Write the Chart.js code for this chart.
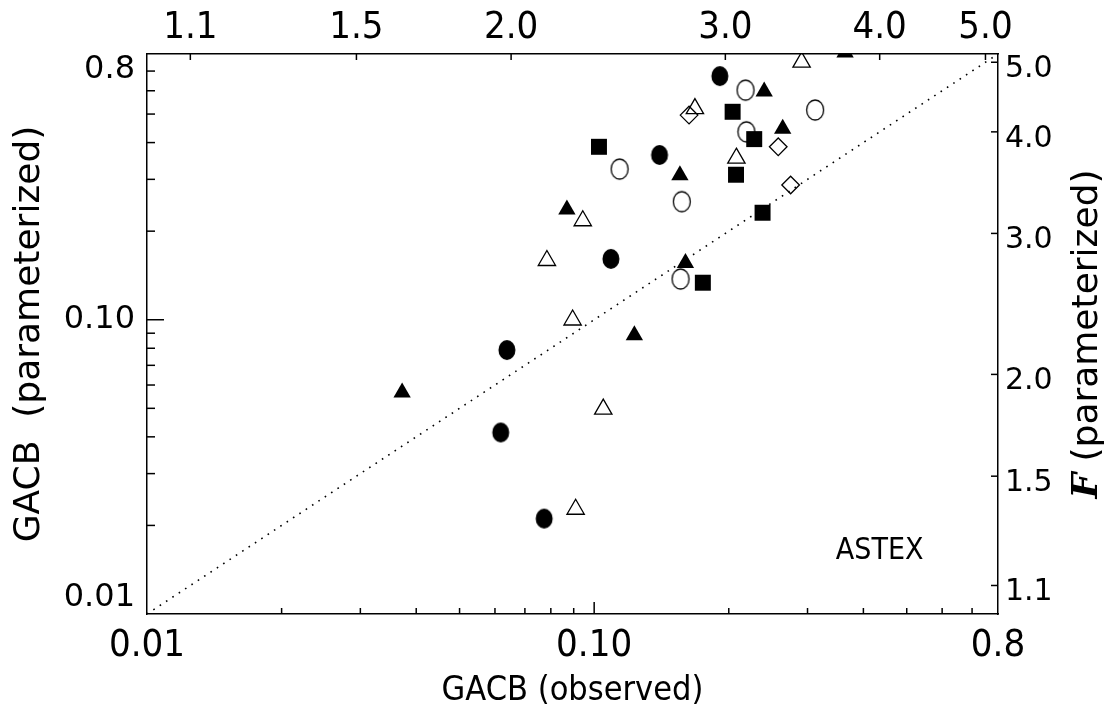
<!DOCTYPE html>
<html lang="en">
<head>
<meta charset="UTF-8">
<title>GACB observed vs parameterized - ASTEX</title>
<script src="https://cdn.jsdelivr.net/npm/chart.js"></script>
<style>
  body {margin:0; background:#fff;}
  canvas {display:block;}
</style>
</head>
<body>
<canvas id="grafico" width="1104" height="720"></canvas>
<script>
// GACB observed (x) vs GACB parameterized (y), one pair of arrays per symbol
const filledCircleX = [0.191, 0.140, 0.109, 0.0638, 0.0618, 0.0773];
const filledCircleY = [0.673, 0.363, 0.161, 0.0789, 0.0414, 0.0211];
const openCircleX = [0.218, 0.312, 0.219, 0.114, 0.157, 0.156];
const openCircleY = [0.603, 0.516, 0.435, 0.325, 0.252, 0.1375];
const filledTriX = [0.240, 0.264, 0.1555, 0.0869, 0.160, 0.123, 0.0372, 0.364];
const filledTriY = [0.596, 0.446, 0.310, 0.237, 0.156, 0.0886, 0.0566, 0.81];
const openTriX = [0.168, 0.208, 0.0943, 0.0784, 0.0895, 0.1048, 0.0909, 0.291];
const openTriY = [0.522, 0.354, 0.217, 0.159, 0.0998, 0.0497, 0.0227, 0.751];
const filledSquareX = [0.204, 0.228, 0.1025, 0.2076, 0.238, 0.175];
const filledSquareY = [0.509, 0.411, 0.387, 0.311, 0.231, 0.1336];
const openDiamondX = [0.163, 0.258, 0.275];
const openDiamondY = [0.496, 0.387, 0.287];

// axes
const AX_MIN = 0.01, AX_MAX = 0.8;
const gacbTicks = [0.01, 0.1, 0.8];
const gacbLabels = ['0.01', '0.10', '0.8'];
const gacbMinor = [0.02, 0.03, 0.04, 0.05, 0.06, 0.07, 0.08, 0.09, 0.2, 0.3, 0.4, 0.5, 0.6, 0.7];
// F scale (top and right axes), placed at the GACB value it corresponds to
const fTickPos = [0.0125, 0.0294, 0.0652, 0.1965, 0.435, 0.75];
const fTickLabels = ['1.1', '1.5', '2.0', '3.0', '4.0', '5.0'];

const NARROW = "'Liberation Sans Narrow', 'DejaVu Sans Condensed', sans-serif";
const ROUND = "'DejaVu Sans', sans-serif";

const pts = (xs, ys) => xs.map((x, i) => ({x, y: ys[i]}));

function ellipseMarker(filled) {
  const c = document.createElement('canvas');
  c.width = 20; c.height = 24;
  const g = c.getContext('2d');
  g.beginPath();
  g.ellipse(10, 12, 8.5, 10, 0, 0, Math.PI * 2);
  if (filled) { g.fillStyle = '#000'; g.fill(); }
  else { g.lineWidth = 1.3; g.strokeStyle = '#000'; g.stroke(); }
  return c;
}

const sym = (data, style, filled, r) => ({
  data,
  pointStyle: style,
  pointRadius: r,
  pointHoverRadius: r,
  pointBackgroundColor: filled ? '#000' : 'rgba(0,0,0,0)',
  pointBorderColor: '#000',
  pointBorderWidth: filled ? 0 : 1.3,
  showLine: false,
  clip: 0
});

const datasets = [
  {
    type: 'line',
    data: [{x: AX_MIN, y: AX_MIN}, {x: AX_MAX, y: AX_MAX}],
    borderColor: '#000',
    borderWidth: 1.6,
    borderDash: [1.6, 6],
    pointRadius: 0,
    fill: false,
    clip: 0
  },
  sym(pts(filledCircleX, filledCircleY), ellipseMarker(true), true, 10),
  sym(pts(openCircleX, openCircleY), ellipseMarker(false), false, 10),
  sym(pts(filledTriX, filledTriY), 'triangle', true, 10),
  sym(pts(openTriX, openTriY), 'triangle', false, 10),
  sym(pts(filledSquareX, filledSquareY), 'rect', true, 11.3),
  sym(pts(openDiamondX, openDiamondY), 'rectRot', false, 8.8)
];

const noGrid = {display: false, drawTicks: false};
const border = {display: true, color: '#000', width: 1.5};

// inward tick marks, axis titles and panel label
const decor = {
  id: 'decor',
  afterDraw(chart) {
    const {ctx, chartArea: a, scales} = chart;
    ctx.save();
    ctx.strokeStyle = '#000';
    ctx.lineWidth = 1.5;
    const line = (x1, y1, x2, y2) => { ctx.beginPath(); ctx.moveTo(x1, y1); ctx.lineTo(x2, y2); ctx.stroke(); };

    gacbMinor.forEach(v => {
      const px = scales.x.getPixelForValue(v);
      line(px, a.bottom, px, a.bottom - 6);
      const py = scales.y.getPixelForValue(v);
      line(a.left, py, a.left + 8, py);
    });
    line(scales.x.getPixelForValue(0.1), a.bottom, scales.x.getPixelForValue(0.1), a.bottom - 12);
    line(a.left, scales.y.getPixelForValue(0.1), a.left + 17, scales.y.getPixelForValue(0.1));
    fTickPos.forEach(v => {
      const px = scales.x2.getPixelForValue(v);
      line(px, a.top, px, a.top + 6);
      const py = scales.y2.getPixelForValue(v);
      line(a.right, py, a.right - 7, py);
    });

    ctx.fillStyle = '#000';
    ctx.textBaseline = 'middle';
    ctx.textAlign = 'center';
    ctx.font = '34px ' + NARROW;
    ctx.fillText('GACB (observed)', (a.left + a.right) / 2, 691);
    ctx.font = '30px ' + NARROW;
    ctx.fillText('ASTEX', scales.x.getPixelForValue(0.435), scales.y.getPixelForValue(0.0163));

    // left title
    ctx.save();
    ctx.translate(30, (a.top + a.bottom) / 2);
    ctx.rotate(-Math.PI / 2);
    ctx.font = '36px ' + ROUND;
    ctx.fillText('GACB  (parameterized)', 0, 0);
    ctx.restore();

    // right title: italic F + (parameterized)
    ctx.save();
    ctx.translate(1088, (a.top + a.bottom) / 2);
    ctx.rotate(-Math.PI / 2);
    ctx.textAlign = 'left';
    const fFont = 'italic bold 36px "DejaVu Serif", serif';
    const rest = ' (parameterized)';
    ctx.font = fFont;
    const wF = ctx.measureText('F').width;
    ctx.font = '36px ' + ROUND;
    const wR = ctx.measureText(rest).width;
    const x0 = -(wF + wR) / 2;
    ctx.font = fFont;
    ctx.fillText('F', x0, 0);
    ctx.font = '36px ' + ROUND;
    ctx.fillText(rest, x0 + wF, 0);
    ctx.restore();

    ctx.restore();
  }
};

new Chart(document.getElementById('grafico'), {
  type: 'scatter',
  data: {datasets},
  plugins: [decor],
  options: {
    responsive: false,
    animation: false,
    events: [],
    layout: {padding: 0},
    plugins: {legend: {display: false}, tooltip: {enabled: false}},
    scales: {
      x: {
        type: 'logarithmic', position: 'bottom', min: AX_MIN, max: AX_MAX,
        afterBuildTicks: s => { s.ticks = gacbTicks.map(v => ({value: v})); },
        afterFit: s => { s.height = 106; },
        ticks: {autoSkip: false, maxRotation: 0, padding: 9, color: '#000',
                font: {family: NARROW, size: 38},
                callback: (v, i) => gacbLabels[i]},
        grid: noGrid, border
      },
      x2: {
        type: 'logarithmic', position: 'top', min: AX_MIN, max: AX_MAX,
        afterBuildTicks: s => { s.ticks = fTickPos.map(v => ({value: v})); },
        afterFit: s => { s.height = 54; },
        ticks: {autoSkip: false, maxRotation: 0, padding: 3, color: '#000',
                font: {family: NARROW, size: 38},
                callback: (v, i) => fTickLabels[i]},
        grid: noGrid, border
      },
      y: {
        type: 'logarithmic', position: 'left', min: AX_MIN, max: AX_MAX,
        afterBuildTicks: s => { s.ticks = gacbTicks.map(v => ({value: v})); },
        afterFit: s => { s.width = 147; },
        ticks: {autoSkip: false, padding: 12, color: '#000',
                font: {family: ROUND, size: 32, lineHeight: 1.0},
                callback: (v, i) => i === 0 ? [gacbLabels[i], ''] :
                  i === gacbTicks.length - 1 ? ['', gacbLabels[i]] : gacbLabels[i]},
        grid: noGrid, border
      },
      y2: {
        type: 'logarithmic', position: 'right', min: AX_MIN, max: AX_MAX,
        afterBuildTicks: s => { s.ticks = fTickPos.map(v => ({value: v})); },
        afterFit: s => { s.width = 106; },
        ticks: {autoSkip: false, padding: 7, labelOffset: 7, color: '#000',
                font: {family: ROUND, size: 30},
                callback: (v, i) => fTickLabels[i]},
        grid: noGrid, border
      }
    }
  }
});
</script>
</body>
</html>
